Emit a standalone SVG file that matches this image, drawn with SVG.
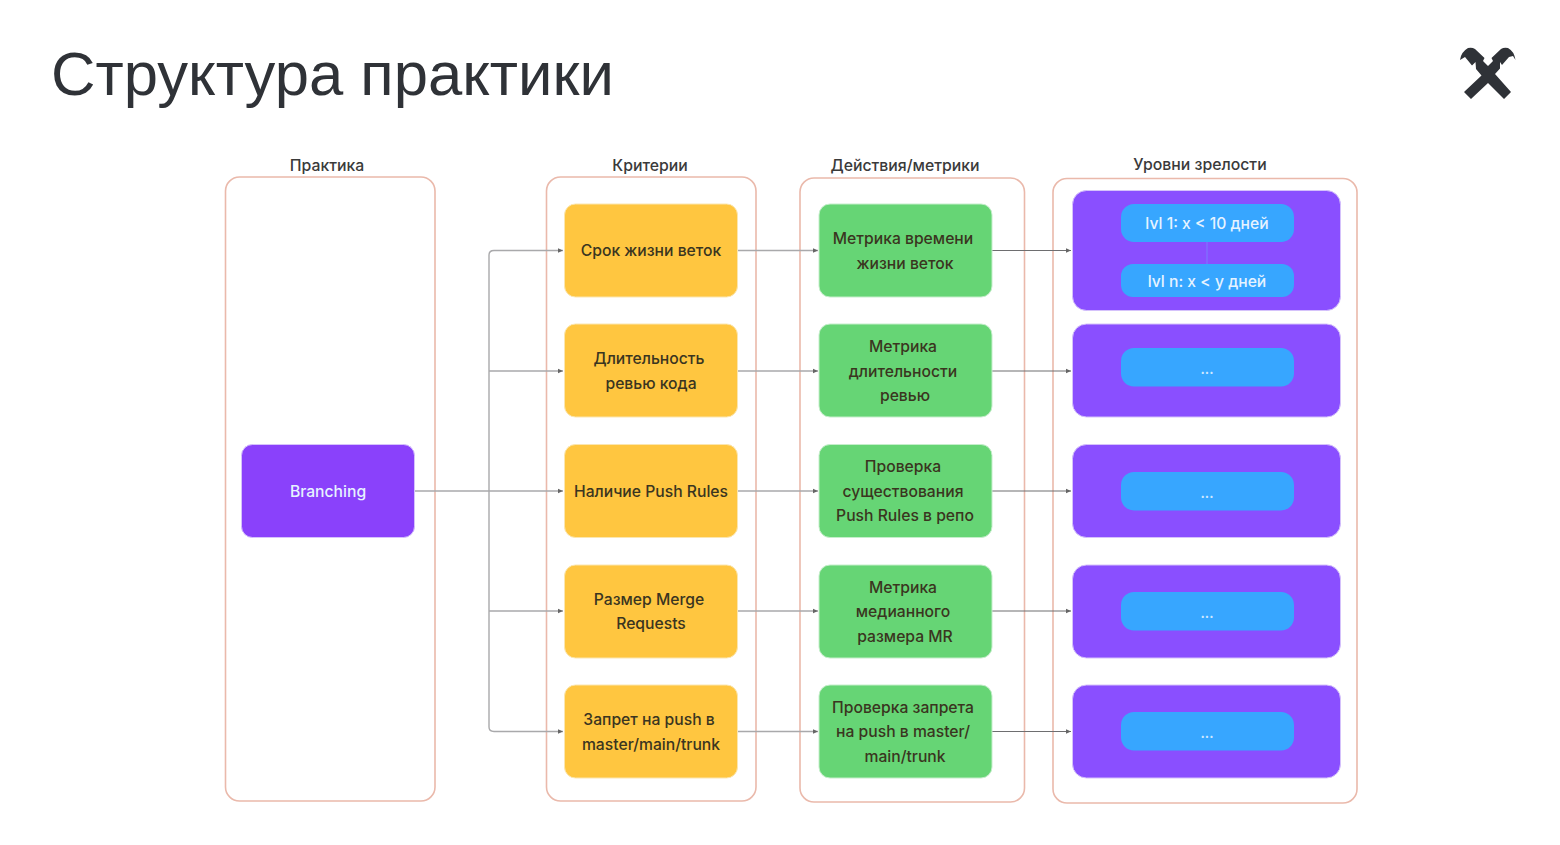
<svg xmlns="http://www.w3.org/2000/svg" width="1560" height="845" viewBox="0 0 1560 845">
<style>
text{font-family:Inter,"Noto Sans",sans-serif;text-anchor:middle;font-weight:500}
.title{font-family:"Liberation Sans",Arial,sans-serif;font-size:61.6px;font-weight:400;fill:#2f3237;text-anchor:start}
.hd{font-size:15.8px;fill:#3a3a3a}
.col{fill:#fff;stroke:#eab9ab;stroke-width:1.6}
.o rect{fill:#ffc640;stroke:#fbe6b0;stroke-width:1}
.g rect{fill:#66d575;stroke:#c5eecb;stroke-width:1}
.p rect.b{fill:#8a4fff;stroke:#d5c2fb;stroke-width:1}
.p rect.c{fill:#37a6ff}
.d{font-size:15.7px;fill:#3a3520}
.w{font-size:15.7px;fill:#e6f3ff}
.dots{font-size:13px;font-weight:700;fill:#cfe8ff}
.ln{fill:none;stroke:#a9a9ab;stroke-width:1.4}
.ld{fill:none;stroke:#6e6e70;stroke-width:1.2}
</style>
<defs>
<marker id="a" markerWidth="6" markerHeight="6" refX="5" refY="3" orient="auto" markerUnits="userSpaceOnUse"><path d="M0 .8L5 3L0 5.2z" fill="#666"/></marker>
</defs>
<text class="title" x="51" y="95">Структура практики</text>
<path id="logo" fill="#2f3237" d="M1460 60Q1461 52 1468 48Q1472 47 1475 49L1484.500 58L1483 61L1488 66L1493 61L1491.500 58L1501 49Q1504 47 1508 48Q1514 51 1515.500 60L1513 56L1509 57L1502 65L1500 62L1500 68.500L1495 74L1511 92L1504 99L1488 83L1471 99L1464 92L1481.500 75.500L1476 69L1475.500 62L1472 65.500L1465 57z"/>
<g id="labels">
<text class="hd" x="327" y="171">Практика</text>
<text class="hd" x="650" y="171">Критерии</text>
<text class="hd" x="905" y="171">Действия/метрики</text>
<text class="hd" x="1200" y="170">Уровни зрелости</text>
</g>
<g id="columns">
<rect class="col" x="225.500" y="177" width="209.500" height="624" rx="14"/>
<rect class="col" x="546.500" y="177" width="209.500" height="624" rx="14"/>
<rect class="col" x="800" y="178" width="224.500" height="624" rx="14"/>
<rect class="col" x="1053" y="178.500" width="304" height="624.500" rx="14"/>
</g>
<g id="connectors">
<path class="ln" d="M414 491H563" marker-end="url(#a)"/>
<path class="ln" d="M489 491V255Q489 250.500 494 250.500H563" marker-end="url(#a)"/>
<path class="ln" d="M489 491V727Q489 731.500 494 731.500H563" marker-end="url(#a)"/>
<path class="ln" d="M489 371H563" marker-end="url(#a)"/>
<path class="ln" d="M489 611H563" marker-end="url(#a)"/>
<path class="ln" d="M737 250.500H818" marker-end="url(#a)"/>
<path class="ln" d="M737 371H818" marker-end="url(#a)"/>
<path class="ln" d="M737 491H818" marker-end="url(#a)"/>
<path class="ln" d="M737 611H818" marker-end="url(#a)"/>
<path class="ln" d="M737 731.500H818" marker-end="url(#a)"/>
<path class="ld" d="M992 250.500H1071" marker-end="url(#a)"/>
<path class="ld" d="M992 371H1071" marker-end="url(#a)"/>
<path class="ld" d="M992 491H1071" marker-end="url(#a)"/>
<path class="ld" d="M992 611H1071" marker-end="url(#a)"/>
<path class="ld" d="M992 731.500H1071" marker-end="url(#a)"/>
</g>
<g id="branching"><rect x="241.500" y="444.500" width="173" height="93" rx="11" fill="#8a41fb" stroke="#d5c2fb"/><text class="w" x="328" y="497">Branching</text></g>
<g id="c1" class="o"><rect x="564.500" y="204" width="173" height="93" rx="11"/><text class="d" x="651" y="256">Срок жизни веток</text></g>
<g id="c2" class="o"><rect x="564.500" y="324" width="173" height="93" rx="11"/><text class="d" x="649" y="364">Длительность</text><text class="d" x="651" y="389">ревью кода</text></g>
<g id="c3" class="o"><rect x="564.500" y="444.500" width="173" height="93" rx="11"/><text class="d" x="651" y="497">Наличие Push Rules</text></g>
<g id="c4" class="o"><rect x="564.500" y="565" width="173" height="93" rx="11"/><text class="d" x="649" y="605">Размер Merge</text><text class="d" x="651" y="629">Requests</text></g>
<g id="c5" class="o"><rect x="564.500" y="685" width="173" height="93" rx="11"/><text class="d" x="649" y="725">Запрет на push в</text><text class="d" x="651" y="750">master/main/trunk</text></g>
<g id="m1" class="g"><rect x="819" y="204" width="173" height="93" rx="11"/><text class="d" x="903" y="244">Метрика времени</text><text class="d" x="905" y="269">жизни веток</text></g>
<g id="m2" class="g"><rect x="819" y="324" width="173" height="93" rx="11"/><text class="d" x="903" y="352">Метрика</text><text class="d" x="903" y="377">длительности</text><text class="d" x="905" y="401">ревью</text></g>
<g id="m3" class="g"><rect x="819" y="444.500" width="173" height="93" rx="11"/><text class="d" x="903" y="472">Проверка</text><text class="d" x="903" y="497">существования</text><text class="d" x="905" y="521">Push Rules в репо</text></g>
<g id="m4" class="g"><rect x="819" y="565" width="173" height="93" rx="11"/><text class="d" x="903" y="593">Метрика</text><text class="d" x="903" y="617">медианного</text><text class="d" x="905" y="642">размера MR</text></g>
<g id="m5" class="g"><rect x="819" y="685" width="173" height="93" rx="11"/><text class="d" x="903" y="713">Проверка запрета</text><text class="d" x="903" y="737">на push в master/</text><text class="d" x="905" y="762">main/trunk</text></g>
<g id="l1" class="p"><rect class="b" x="1072.500" y="190.500" width="268" height="120" rx="14"/><path d="M1207 242V264" stroke="#7a7cff" stroke-width="1"/><rect class="c" x="1121" y="204" width="173" height="38" rx="13"/><text class="w" x="1207" y="229">lvl 1: x &lt; 10 дней</text><rect class="c" x="1121" y="264" width="173" height="33" rx="12"/><text class="w" x="1207" y="287">lvl n: x &lt; y дней</text></g>
<g id="l2" class="p"><rect class="b" x="1072.500" y="324" width="268" height="93" rx="14"/><rect class="c" x="1121" y="348" width="173" height="38.500" rx="13"/><text class="dots" x="1207" y="374">...</text></g>
<g id="l3" class="p"><rect class="b" x="1072.500" y="444.500" width="268" height="93" rx="14"/><rect class="c" x="1121" y="472" width="173" height="38.500" rx="13"/><text class="dots" x="1207" y="498">...</text></g>
<g id="l4" class="p"><rect class="b" x="1072.500" y="565" width="268" height="93" rx="14"/><rect class="c" x="1121" y="592" width="173" height="38.500" rx="13"/><text class="dots" x="1207" y="618">...</text></g>
<g id="l5" class="p"><rect class="b" x="1072.500" y="685" width="268" height="93" rx="14"/><rect class="c" x="1121" y="712" width="173" height="38.500" rx="13"/><text class="dots" x="1207" y="738">...</text></g>
</svg>
